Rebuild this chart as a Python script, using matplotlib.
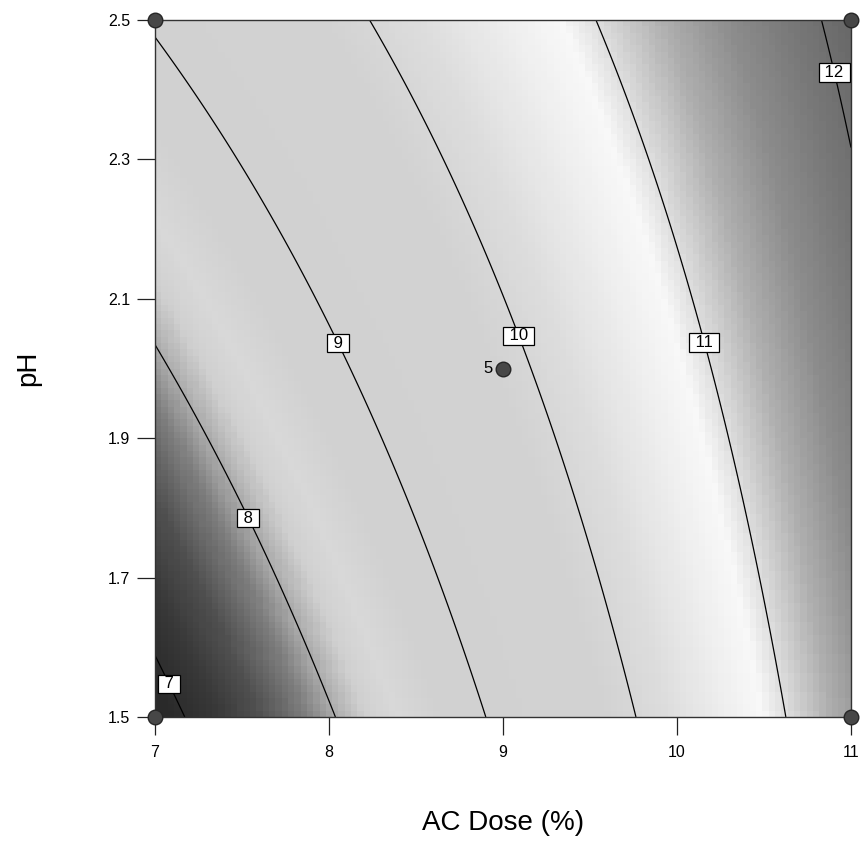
import numpy as np
import matplotlib
matplotlib.use("Agg")
import matplotlib.pyplot as plt
from matplotlib.colors import LinearSegmentedColormap

plt.rcParams["font.family"] = ["Liberation Sans", "DejaVu Sans"]

# Points lying on each response contour (AC dose %, pH, response level)
level_pts = [7, 7,
             8, 8, 8, 8,
             9, 9, 9, 9, 9,
             10, 10, 10, 10, 10,
             11, 11, 11, 11, 11,
             12, 12]
dose_pts = [7.00, 7.17,
            7.00, 7.56, 7.70, 8.04,
            7.00, 7.47, 8.075, 8.59, 8.91,
            8.24, 8.63, 9.10, 9.52, 9.77,
            9.53, 9.86, 10.17, 10.46, 10.64,
            10.83, 11.00]
ph_pts = [1.585, 1.50,
          2.03, 1.788, 1.70, 1.50,
          2.474, 2.30, 2.039, 1.70, 1.50,
          2.50, 2.30, 2.048, 1.70, 1.50,
          2.50, 2.30, 2.038, 1.70, 1.50,
          2.50, 2.306]

contour_levels = [7, 8, 9, 10, 11, 12]
label_dose = [7.10, 7.56, 8.075, 9.10, 10.17, 10.91]
label_ph = [1.55, 1.788, 2.039, 2.048, 2.038, 2.425]

# Design points: factorial corners and the replicated centre point
design_dose = [7, 7, 11, 11, 9]
design_ph = [1.5, 2.5, 1.5, 2.5, 2.0]
center_reps = "5"

x_ticks = [7, 8, 9, 10, 11]
y_ticks = [1.5, 1.7, 1.9, 2.1, 2.3, 2.5]
y_ticklabels = ["1.5", "1.7", "1.9", "2.1", "2.3", "2.5"]

# Grey shading keyed to the response value
shade_vals = [6.9, 7.2, 7.5, 7.8, 8.0, 8.2, 8.4, 8.7, 9.8, 10.2, 10.6, 10.85, 11.05, 11.3, 11.6, 11.9, 12.2]
shade_grey = [42, 55, 80, 125, 172, 208, 216, 209, 210, 220, 238, 248, 215, 175, 140, 118, 100]


def design_matrix(x, p):
    x = np.asarray(x, float) - 9.0
    p = np.asarray(p, float) - 2.0
    return np.column_stack([np.ones_like(x), x, p, x * p, x * x, p * p])


coef, *_ = np.linalg.lstsq(design_matrix(dose_pts, ph_pts),
                           np.asarray(level_pts, float), rcond=None)

fig = plt.figure(figsize=(8.6, 8.65), dpi=100)
ax = fig.add_axes([155 / 860, 1 - 717 / 865, 696 / 860, 697 / 865])

nx, ny = 110, 110
xe = np.linspace(7, 11, nx + 1)
pe = np.linspace(1.5, 2.5, ny + 1)
xc = 0.5 * (xe[1:] + xe[:-1])
pc = 0.5 * (pe[1:] + pe[:-1])
XC, PC = np.meshgrid(xc, pc)
ZC = (design_matrix(XC.ravel(), PC.ravel()) @ coef).reshape(XC.shape)

vmin, vmax = shade_vals[0], shade_vals[-1]
nodes = [((v - vmin) / (vmax - vmin), (g / 255, g / 255, g / 255))
         for v, g in zip(shade_vals, shade_grey)]
cmap = LinearSegmentedColormap.from_list("greys_resp", nodes)
ax.pcolormesh(xe, pe, ZC, cmap=cmap, vmin=vmin, vmax=vmax, shading="flat")

xf = np.linspace(7, 11, 400)
pf = np.linspace(1.5, 2.5, 400)
XF, PF = np.meshgrid(xf, pf)
ZF = (design_matrix(XF.ravel(), PF.ravel()) @ coef).reshape(XF.shape)
cs = ax.contour(XF, PF, ZF, levels=contour_levels, colors="black", linewidths=0.9)
labels = ax.clabel(cs, inline=False, fontsize=12, fmt=lambda v: f" {v:.0f} ",
                   manual=list(zip(label_dose, label_ph)))
for t in labels:
    t.set_rotation(0)
    t.set_color("black")
    t.set_bbox(dict(boxstyle="square,pad=0.1", facecolor="white",
                    edgecolor="black", linewidth=0.9))
    t.set_zorder(5)

ax.plot(design_dose, design_ph, "o", ms=10.5, mfc="#474747", mec="#262626",
        mew=1.0, clip_on=False, zorder=6)
ax.text(design_dose[-1] - 0.06, design_ph[-1], center_reps, ha="right",
        va="center", fontsize=12, color="black", zorder=6)

ax.set_xlim(7, 11)
ax.set_ylim(1.5, 2.5)
ax.set_xticks(x_ticks)
ax.set_xticklabels([str(v) for v in x_ticks])
ax.set_yticks(y_ticks)
ax.set_yticklabels(y_ticklabels)
ax.tick_params(direction="out", length=13, width=0.9, labelsize=11.5,
               color="#222222", labelcolor="black")
ax.tick_params(axis="x", pad=7)
ax.tick_params(axis="y", pad=5)
for s in ax.spines.values():
    s.set_linewidth(1.0)
    s.set_color("#333333")

ax.set_xlabel("AC Dose (%)", fontsize=20, labelpad=36)
ax.set_ylabel("pH", fontsize=20, labelpad=48)

fig.savefig("out.png", dpi=100, facecolor="white")
